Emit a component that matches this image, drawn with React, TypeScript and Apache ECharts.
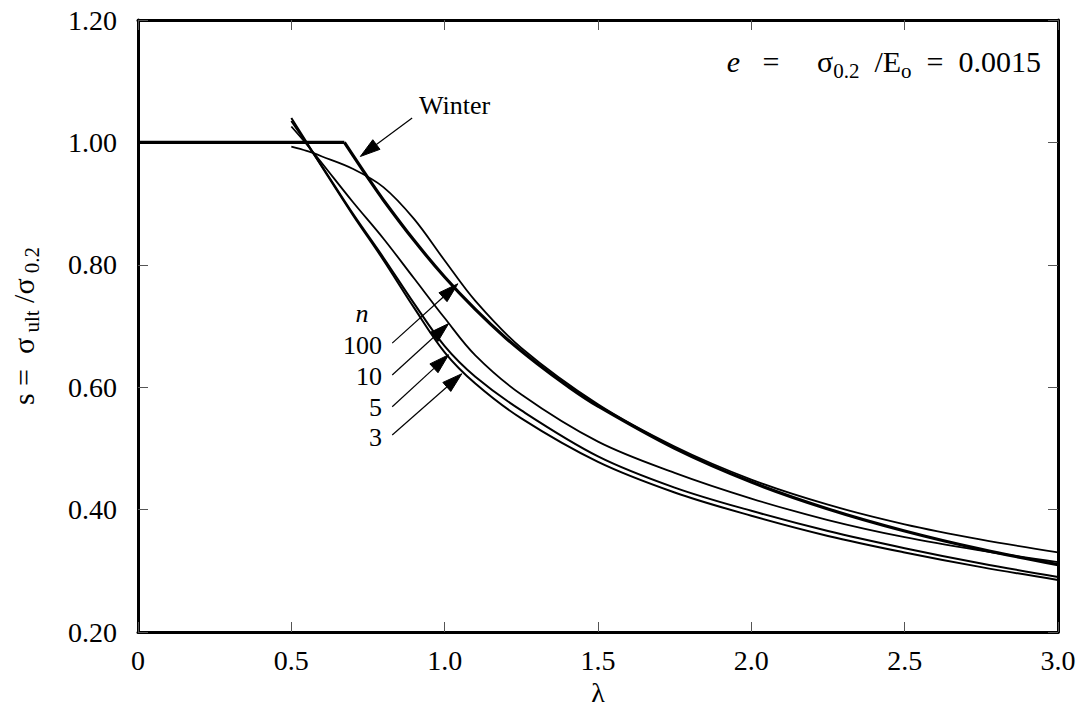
import React, { useEffect, useRef } from "react";
import * as echarts from "echarts";

// ---- data ----
const LAMBDA = [0.5, 0.55, 0.6, 0.7, 0.8, 0.9, 1.0, 1.1, 1.25, 1.5, 1.75, 2.0, 2.25, 2.5, 2.75, 3.0];
const S_N3 = [1.040, 1.000, 0.960, 0.882, 0.808, 0.730, 0.657, 0.606, 0.549, 0.478, 0.428, 0.390, 0.357, 0.330, 0.306, 0.285];
const S_N5 = [1.035, 0.998, 0.961, 0.884, 0.812, 0.737, 0.667, 0.617, 0.562, 0.487, 0.436, 0.398, 0.365, 0.337, 0.312, 0.290];
const S_N10 = [1.026, 0.997, 0.966, 0.903, 0.843, 0.778, 0.713, 0.652, 0.588, 0.511, 0.460, 0.418, 0.383, 0.355, 0.333, 0.314];
const S_N100 = [0.993, 0.986, 0.977, 0.957, 0.927, 0.875, 0.807, 0.741, 0.664, 0.572, 0.503, 0.449, 0.408, 0.376, 0.351, 0.330];

const WINTER_FLAT_LAMBDA = [0, 0.673];
const WINTER_FLAT_S = [1.0, 1.0];
const WINTER_LAMBDA = [0.673, 0.75, 0.8, 0.9, 1.0, 1.1, 1.2, 1.3, 1.4, 1.5, 1.75, 2.0, 2.25, 2.5, 2.75, 3.0];
const WINTER_S = [1.0, 0.942, 0.906, 0.840, 0.780, 0.727, 0.680, 0.639, 0.602, 0.569, 0.500, 0.445, 0.401, 0.365, 0.335, 0.310];

const X_TICKS = [0, 0.5, 1.0, 1.5, 2.0, 2.5, 3.0];

// arrows: tail and tip in (λ, s)
const ARROW_NAMES = ["Winter", "100", "10", "5", "3"];
const ARROW_TAIL = [[0.894, 1.040], [0.829, 0.672], [0.829, 0.620], [0.829, 0.568], [0.829, 0.522]];
const ARROW_TIP = [[0.725, 0.977], [1.043, 0.769], [1.013, 0.704], [1.013, 0.653], [1.056, 0.622]];

const FONT = "'Liberation Serif', 'Times New Roman', serif";

function pairs(xs: number[], ys: number[]) {
  return xs.map((x, i) => [x, ys[i]]);
}

export default function App() {
  const ref = useRef<HTMLDivElement>(null);
  useEffect(() => {
    if (!ref.current) return;
    const chart = echarts.init(ref.current, undefined, { renderer: "svg" });
    const curve = (name: string, xs: number[], ys: number[], width: number, smooth: boolean | number) => ({
      name,
      type: "line",
      data: pairs(xs, ys),
      showSymbol: false,
      smooth,
      lineStyle: { color: "#000", width },
      itemStyle: { color: "#000" },
      emphasis: { disabled: true },
      silent: true,
      z: 3,
    });
    const axisCommon = {
      type: "value",
      axisLine: { show: true, onZero: false, lineStyle: { color: "#000", width: 3 } },
      axisTick: { show: true, inside: true, length: 10, lineStyle: { color: "#555", width: 1 } },
      splitLine: { show: false },
    };
    chart.setOption({
      animation: false,
      backgroundColor: "#fff",
      grid: { left: 135, right: 27, top: 20, bottom: 84, containLabel: false },
      xAxis: [
        {
          ...axisCommon,
          position: "bottom",
          min: 0,
          max: 3,
          interval: 0.5,
          name: "λ",
          nameLocation: "middle",
          nameGap: 46,
          nameTextStyle: { fontFamily: FONT, fontSize: 28, color: "#000" },
          axisLabel: {
            fontFamily: FONT,
            fontSize: 28,
            color: "#000",
            margin: 14,
            formatter: (v: number) => (X_TICKS.includes(v) ? (v === 0 ? "0" : v.toFixed(1)) : ""),
          },
        },
        {
          ...axisCommon,
          position: "top",
          min: 0,
          max: 3,
          interval: 0.5,
          axisLabel: { show: false },
        },
      ],
      yAxis: [
        {
          ...axisCommon,
          position: "left",
          min: 0.2,
          max: 1.2,
          interval: 0.2,
          name: "{m|s =  σ}{s| ult}{m| /σ}{s| 0.2}",
          nameLocation: "middle",
          nameRotate: 90,
          nameGap: 100,
          nameTextStyle: {
            color: "#000",
            rich: {
              m: { fontFamily: FONT, fontSize: 30, color: "#000", lineHeight: 30, verticalAlign: "top" },
              s: { fontFamily: FONT, fontSize: 21, color: "#000", lineHeight: 21, verticalAlign: "top", padding: [13, 0, 0, 0] },
            },
          },
          axisLabel: {
            fontFamily: FONT,
            fontSize: 28,
            color: "#000",
            margin: 21,
            formatter: (v: number) => v.toFixed(2),
          },
        },
        {
          ...axisCommon,
          position: "right",
          min: 0.2,
          max: 1.2,
          interval: 0.2,
          axisLabel: { show: false },
        },
      ],
      series: [
        curve("n=3", LAMBDA, S_N3, 2, 0.35),
        curve("n=5", LAMBDA, S_N5, 2, 0.35),
        curve("n=10", LAMBDA, S_N10, 1.8, 0.35),
        curve("n=100", LAMBDA, S_N100, 1.8, 0.35),
        curve("Winter flat", WINTER_FLAT_LAMBDA, WINTER_FLAT_S, 3.2, false),
        curve("Winter", WINTER_LAMBDA, WINTER_S, 3.2, 0.35),
      ],
    });

    const g: any[] = [];
    const labelPos: Record<string, any> = {
      Winter: { x: 419, y: 105, align: "left" },
      "100": { x: 382, y: 345, align: "right" },
      "10": { x: 382, y: 376, align: "right" },
      "5": { x: 382, y: 407, align: "right" },
      "3": { x: 382, y: 437, align: "right" },
    };
    ARROW_NAMES.forEach((nm, i) => {
      const a = chart.convertToPixel({ gridIndex: 0 }, ARROW_TAIL[i]) as number[];
      const b = chart.convertToPixel({ gridIndex: 0 }, ARROW_TIP[i]) as number[];
      const dx = b[0] - a[0];
      const dy = b[1] - a[1];
      const len = Math.sqrt(dx * dx + dy * dy);
      const ux = dx / len;
      const uy = dy / len;
      const headL = 20;
      const headW = 6;
      const bx = b[0] - ux * headL;
      const by = b[1] - uy * headL;
      g.push({
        type: "line",
        shape: { x1: a[0], y1: a[1], x2: bx, y2: by },
        style: { stroke: "#000", lineWidth: 1.2 },
        silent: true,
        z: 10,
      });
      g.push({
        type: "polygon",
        shape: {
          points: [
            [b[0], b[1]],
            [bx - uy * headW, by + ux * headW],
            [bx + uy * headW, by - ux * headW],
          ],
        },
        style: { fill: "#000", stroke: "#000", lineWidth: 1 },
        silent: true,
        z: 10,
      });
      const lp = labelPos[nm];
      g.push({
        type: "text",
        x: lp.x,
        y: lp.y,
        style: {
          text: nm,
          fontFamily: FONT,
          fontSize: 26,
          fill: "#000",
          align: lp.align,
          verticalAlign: "middle",
        },
        silent: true,
        z: 10,
      });
    });
    g.push({
      type: "text",
      x: 362,
      y: 313,
      style: {
        text: "n",
        fontFamily: FONT,
        fontStyle: "italic",
        fontSize: 26,
        fill: "#000",
        align: "center",
        verticalAlign: "middle",
      },
      silent: true,
      z: 10,
    });
    g.push({
      type: "text",
      x: 1041,
      y: 46,
      style: {
        text: "{i|e}{m|   =     σ}{s|0.2}{m|  /E}{s|o}{m|  =  0.0015}",
        align: "right",
        verticalAlign: "top",
        rich: {
          i: { fontFamily: FONT, fontStyle: "italic", fontSize: 30, fill: "#000", lineHeight: 30, verticalAlign: "top" },
          m: { fontFamily: FONT, fontSize: 30, fill: "#000", lineHeight: 30, verticalAlign: "top" },
          s: { fontFamily: FONT, fontSize: 21, fill: "#000", lineHeight: 21, verticalAlign: "top", padding: [14, 0, 0, 0] },
        },
      },
      silent: true,
      z: 10,
    });
    chart.setOption({ graphic: g });

    return () => chart.dispose();
  }, []);
  return <div ref={ref} style={{ position: "absolute", left: 0, top: 0, width: 1085, height: 716, background: "#fff" }} />;
}
